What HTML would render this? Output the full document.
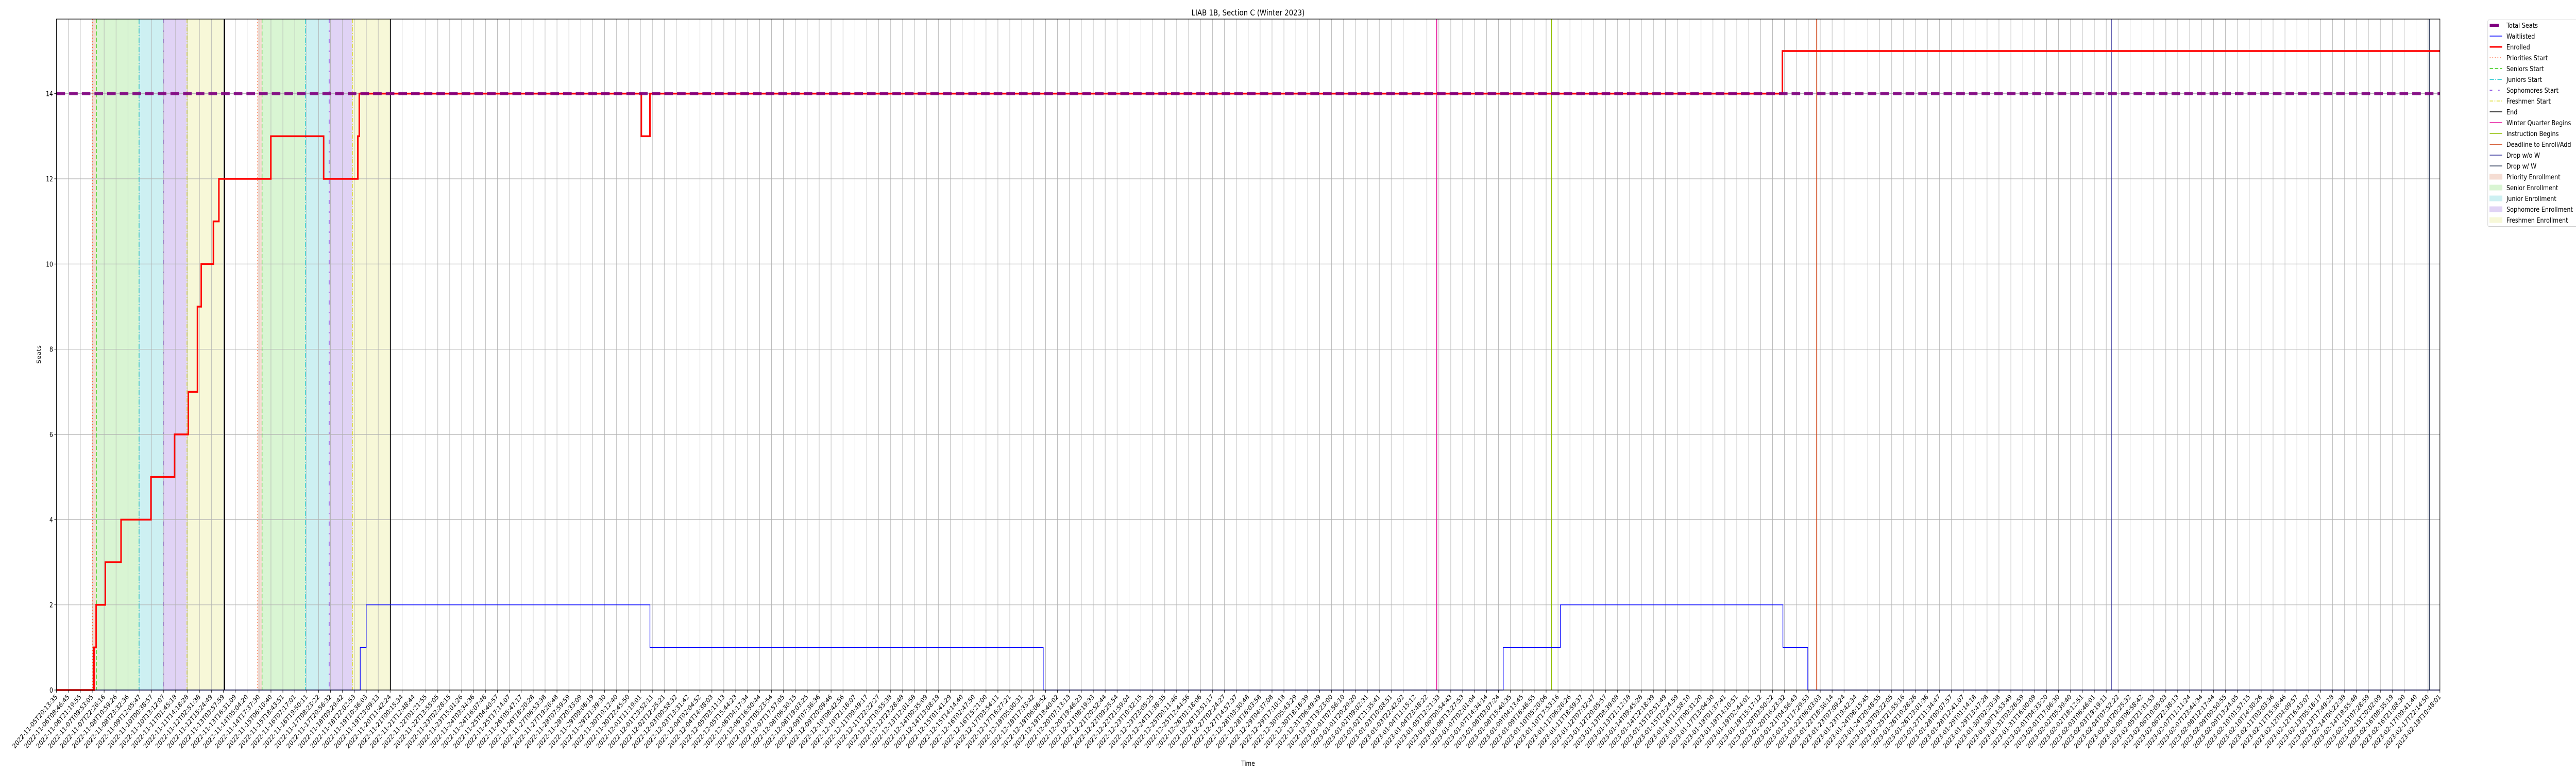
<!DOCTYPE html>
<html><head><meta charset="utf-8"><style>
html,body{margin:0;padding:0;background:#fff;overflow:hidden;width:100vw;height:100vh;}
svg{display:block;position:fixed;left:0;top:0;width:100vw;height:100vh;font-family:"DejaVu Sans","Liberation Sans",sans-serif;}
</style></head><body>
<svg id="chart" viewBox="0 0 6000 1500" preserveAspectRatio="none" xmlns="http://www.w3.org/2000/svg">
<rect x="0" y="0" width="6000" height="1500" fill="#fff"/>
<g id="spans"></g>
<g id="grid"></g>
<g id="vlines"></g>
<g id="series"></g>
<g id="axes"></g>
<text x="2907" y="30" font-size="16" text-anchor="middle">LIAB 1B, Section C (Winter 2023)</text>
<text x="2907" y="1486" font-size="13" text-anchor="middle">Time</text>
<text x="95" y="688" font-size="13" text-anchor="middle" transform="rotate(-90 95 688)">Seats</text>
<g id="legend"></g>
</svg>
<script>
// ---- data (x in tick-index units, y in seats) ----
const tickStart = "2022-11-05T20:13:35";
const tickEnd = "2023-02-18T10:48:01";
const tickCount = 201;
const yTicks = [0, 2, 4, 6, 8, 10, 12, 14];
const totalSeats = 14;
const enrolledX = [0, 3.15, 3.33, 4.1, 5.42, 7.93, 9.91, 11.07, 11.83, 12.15, 13.17, 13.63, 17.99, 22.42, 25.29, 25.41, 49.08, 49.8, 144.83, 200];
const enrolledY = [0, 1, 2, 3, 4, 5, 6, 7, 9, 10, 11, 12, 13, 12, 13, 14, 13, 14, 15, 15];
const waitX = [0, 25.49, 25.99, 49.8, 82.8, 121.4, 126.2, 144.87, 146.96, 200];
const waitY = [0, 1, 2, 1, 0, 1, 2, 1, 0, 0];
const spanStarts = [3.03, 3.35, 6.93, 8.95, 10.95, 16.88, 17.25, 20.9, 22.88, 24.85];
const spanEnds   = [3.35, 6.93, 8.95, 10.95, 14.1, 17.25, 20.9, 22.88, 24.85, 28.02];
const spanKinds  = [0, 1, 2, 3, 4, 0, 1, 2, 3, 4];
const roundStartX = [3.03, 3.35, 6.93, 8.95, 10.95, 16.88, 17.25, 20.9, 22.88, 24.85];
const roundEndX = [14.1, 28.02];
const eventX = [115.82, 125.45, 147.71, 172.42, 199.11];

// ---- geometry ----
const L = 131.5, R = 5683, T = 37, B = 1339;
const X0 = 0, X1 = 200, Y0 = 0, Y1 = 15.75;
const sx = v => L + (v - X0) / (X1 - X0) * (R - L);
const sy = v => B - (v - Y0) / (Y1 - Y0) * (B - T);
const NS = "http://www.w3.org/2000/svg";
function mk(tag, attrs, parent) {
  const e = document.createElementNS(NS, tag);
  for (const k in attrs) e.setAttribute(k, attrs[k]);
  parent.appendChild(e);
  return e;
}
const spanColors = ["#f5ddd3", "#d9f5d3", "#cdf0f2", "#e0d3f5", "#f7f8d8"];
const spanNames = ["priority", "senior", "junior", "sophomore", "freshmen"];
const startColors = ["#ff6a3d", "#33cc11", "#11c4cc", "#6a1bdc", "#dede33"];
const startDash = ["2,4", "8,4", "10,3,2,3", "8,14,3,14", "8,3,2,3"];
const eventColors = ["#e6149b", "#8fbf00", "#cc3a0a", "#32309a", "#2f3b5a"];
const eventNames = ["winter-quarter-begins-line", "instruction-begins-line", "deadline-enroll-add-line", "drop-without-w-line", "drop-with-w-line"];

// spans
const gS = document.getElementById('spans');
for (let i = 0; i < spanStarts.length; i++) {
  const r = mk('rect', {x: sx(spanStarts[i]), y: T, width: sx(spanEnds[i]) - sx(spanStarts[i]), height: B - T, fill: spanColors[spanKinds[i]]}, gS);
  
  
}
// grid
const gG = document.getElementById('grid');
const gA = document.getElementById('axes');
const t0 = Date.parse(tickStart + "Z"), t1 = Date.parse(tickEnd + "Z");
for (let i = 0; i < tickCount; i++) {
  const v = X0 + i * (X1 - X0) / (tickCount - 1);
  const x = sx(v);
  const gl = mk('line', {x1: x, x2: x, y1: T, y2: B, stroke: '#b0b0b0', 'stroke-width': 1}, gG);
  
  
  mk('line', {x1: x, x2: x, y1: B, y2: B + 5, stroke: '#000', 'stroke-width': 1}, gA);
  const d = new Date(t0 + (t1 - t0) * i / (tickCount - 1));
  const lbl = d.toISOString().slice(0, 19);
  const tx = mk('text', {x: x + 3, y: B + 14, 'font-size': 13, 'text-anchor': 'end', transform: `rotate(-45 ${x + 3} ${B + 14})`, fill: '#000'}, gA);
  tx.textContent = lbl;
  
  
}
for (const yv of yTicks) {
  const y = sy(yv);
  const gl = mk('line', {x1: L, x2: R, y1: y, y2: y, stroke: '#b0b0b0', 'stroke-width': 1.2}, gG);
  
  
  mk('line', {x1: L - 5, x2: L, y1: y, y2: y, stroke: '#000', 'stroke-width': 1}, gA);
  const tx = mk('text', {x: L - 8, y: y + 5, 'font-size': 13, 'text-anchor': 'end'}, gA);
  tx.textContent = yv;
  
  
}
const frame = mk('rect', {x: L, y: T, width: R - L, height: B - T, fill: 'none', stroke: '#000', 'stroke-width': 1.2}, gA);



// vertical lines
const gV = document.getElementById('vlines');
for (let i = 0; i < roundStartX.length; i++) {
  const k = i % 5;
  const ln = mk('line', {x1: sx(roundStartX[i]), x2: sx(roundStartX[i]), y1: T, y2: B, stroke: startColors[k], 'stroke-width': 1.5, 'stroke-dasharray': startDash[k]}, gV);
  
  
}
for (const ex of roundEndX) {
  const ln = mk('line', {x1: sx(ex), x2: sx(ex), y1: T, y2: B, stroke: '#000', 'stroke-width': 2}, gV);
  
  
}
for (let i = 0; i < eventX.length; i++) {
  const ln = mk('line', {x1: sx(eventX[i]), x2: sx(eventX[i]), y1: T, y2: B, stroke: eventColors[i], 'stroke-width': 2}, gV);
  
  
}

// series
const gSe = document.getElementById('series');
function stepPath(xs, ys) {
  let d = `M${sx(xs[0])},${sy(ys[0])}`;
  for (let i = 1; i < xs.length; i++) {
    d += ` L${sx(xs[i])},${sy(ys[i - 1])} L${sx(xs[i])},${sy(ys[i])}`;
  }
  return d;
}
const wl = mk('path', {d: stepPath(waitX, waitY), fill: 'none', stroke: '#0000ff', 'stroke-width': 1.5}, gSe);


const el = mk('path', {d: stepPath(enrolledX, enrolledY), fill: 'none', stroke: '#ff0000', 'stroke-width': 3.5}, gSe);


const ts = mk('line', {x1: L, x2: R, y1: sy(totalSeats), y2: sy(totalSeats), stroke: '#800080', 'stroke-width': 6, 'stroke-dasharray': '20,9.5', opacity: 0.9}, gSe);



// legend
const gL = document.getElementById('legend');
mk('rect', {x: 5794.5, y: 38.5, width: 215, height: 401, rx: 3, fill: '#fff', stroke: '#d0d0d0', 'stroke-width': 1}, gL);
const legendItems = [
  ['Total Seats', 'line', '#800080', 6, null],
  ['Waitlisted', 'line', '#0000ff', 1.5, null],
  ['Enrolled', 'line', '#ff0000', 3, null],
  ['Priorities Start', 'line', startColors[0], 1.5, startDash[0]],
  ['Seniors Start', 'line', startColors[1], 1.5, startDash[1]],
  ['Juniors Start', 'line', startColors[2], 1.5, startDash[2]],
  ['Sophomores Start', 'line', startColors[3], 1.5, '6,14,3,14'],
  ['Freshmen Start', 'line', startColors[4], 1.5, startDash[4]],
  ['End', 'line', '#000', 1.5, null],
  ['Winter Quarter Begins', 'line', eventColors[0], 1.5, null],
  ['Instruction Begins', 'line', eventColors[1], 1.5, null],
  ['Deadline to Enroll/Add', 'line', eventColors[2], 1.5, null],
  ['Drop w/o W', 'line', eventColors[3], 1.5, null],
  ['Drop w/ W', 'line', eventColors[4], 1.5, null],
  ['Priority Enrollment', 'patch', spanColors[0]],
  ['Senior Enrollment', 'patch', spanColors[1]],
  ['Junior Enrollment', 'patch', spanColors[2]],
  ['Sophomore Enrollment', 'patch', spanColors[3]],
  ['Freshmen Enrollment', 'patch', spanColors[4]]
];
legendItems.forEach((it, i) => {
  const y = 49 + i * 21;
  const g = mk('g', {}, gL);
  
  
  if (it[1] === 'line') {
    const a = {x1: 5799, x2: 5828, y1: y, y2: y, stroke: it[2], 'stroke-width': it[3]};
    if (it[4]) a['stroke-dasharray'] = it[4];
    if (i === 0) a.x2 = 5820;
    mk('line', a, g);
  } else {
    mk('rect', {x: 5799, y: y - 5, width: 29, height: 10, fill: it[2], stroke: it[2]}, g);
  }
  const t = mk('text', {x: 5838, y: y + 5, 'font-size': 13.5}, g);
  t.textContent = it[0];
});
</script>
</body></html>
